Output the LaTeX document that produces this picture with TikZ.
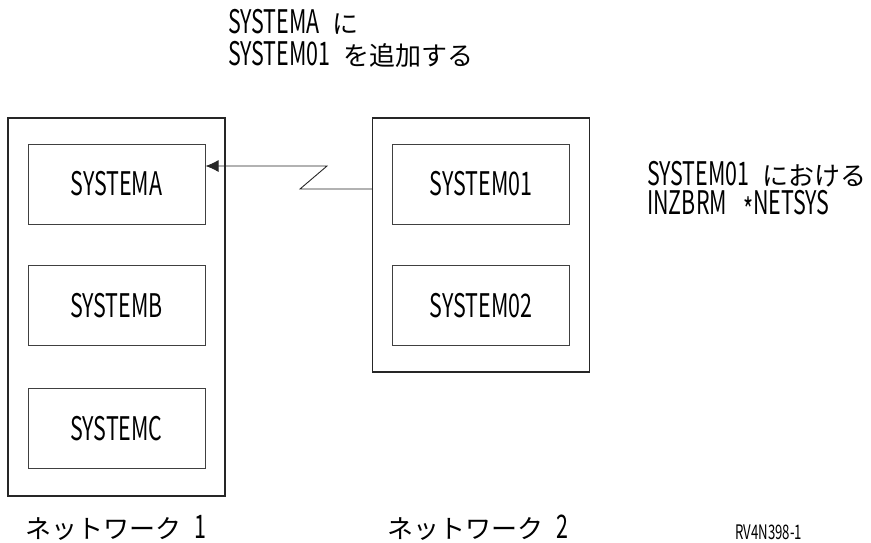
\documentclass[tikz,border=0pt]{standalone}
\usepackage{fontspec}
\setmainfont{Noto Sans CJK JP}
\newfontfamily\narrowfont[FakeStretch=0.66,Scale=1.25]{Noto Sans CJK JP}
\newcommand\hw[1]{{\narrowfont #1}}
\usetikzlibrary{arrows.meta,positioning}
\tikzset{x=1pt, y=-1pt}

\begin{document}
\begin{tikzpicture}[
  every node/.style={font=\fontsize{26}{29}\selectfont},
  network/.style={draw=black!85,line width=1.2pt,minimum width=217pt,inner sep=0pt},
  system/.style={draw=black!75,line width=1pt,minimum width=177pt,minimum height=80pt,inner sep=0pt},
  caption/.style={anchor=base west,inner sep=0pt,align=left},
  link/.style={-{Latex[length=13pt,width=12pt]},line width=0.9pt,black!85}]

  \useasboundingbox (0,0) rectangle (871,542);

  % the two networks
  \node[network,minimum height=378pt] (net1) at (116.5,307) {};
  \node[network,minimum height=254pt] (net2) at (481,245) {};

  % systems of network 1
  \node[system] (systema) at (116.5,184) {\hw{SYSTEMA}};
  \node[system] (systemb) at (116.5,305.5) {\hw{SYSTEMB}};
  \node[system] (systemc) at (116.5,428.5) {\hw{SYSTEMC}};

  % systems of network 2
  \node[system] (system01) at (481,184) {\hw{SYSTEM01}};
  \node[system] (system02) at (481,305.5) {\hw{SYSTEM02}};

  % labels (base anchor sits on the last line)
  \node[caption,font=\fontsize{26}{32}\selectfont] (addlabel) at (228,65)
    {\hw{SYSTEMA}\enspace に\\\hw{SYSTEM01}\enspace を追加する};
  \node[caption,font=\fontsize{26}{29}\selectfont] (inzlabel) at (647,214)
    {\hw{SYSTEM01}\enspace における\\\hw{INZBRM\enspace\raisebox{-0.27em}{*}NETSYS}};
  \node[caption] (net1label) at (25,538) {ネットワーク\enspace\hw{1}};
  \node[caption] (net2label) at (387,538) {ネットワーク\enspace\hw{2}};
  \node[caption,font=\fontsize{16}{18}\selectfont] (figid) at (735,539) {\hw{RV4N398-1}};

  % link from network 2 to SYSTEMA
  \coordinate (zigb) at (300,189);
  \coordinate (ziga) at (327,166);
  \draw[link] (net2.west |- zigb) -- (zigb) -- (ziga) -- (systema.east |- ziga);

\end{tikzpicture}
\end{document}
